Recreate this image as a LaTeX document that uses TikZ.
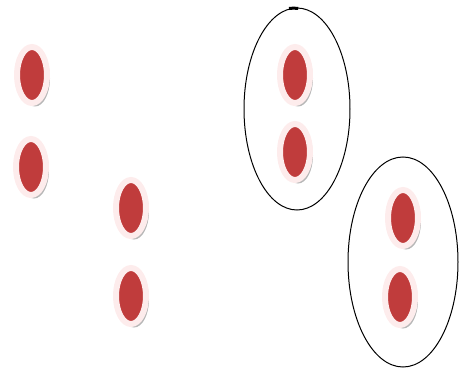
\documentclass[tikz,border=0pt]{standalone}
\usepackage{xcolor}
\usepackage{tikz}
\usetikzlibrary{shapes.geometric,shadows}
\definecolor{cellred}{RGB}{192,60,60}
\definecolor{ringpink}{RGB}{253,236,236}
\tikzset{
  cell/.style={ellipse,fill=cellred,draw=ringpink,line width=6pt,minimum width=30pt,minimum height=56pt,inner sep=0pt,
    drop shadow={shadow xshift=3pt,shadow yshift=-3.5pt,fill=black!40,opacity=0.7}},
  group/.style={ellipse,draw=black,line width=1pt,inner sep=0pt},
}
\begin{document}
\begin{tikzpicture}[x=1pt,y=-1pt]
\useasboundingbox (0,0) rectangle (461,369);
% loose cells
\foreach \n/\x/\y in {a/32/75,b/31/167,c/131/208,d/131/296} \node[cell] (\n) at (\x,\y) {};
% grouped cells
\node[group,minimum width=106pt,minimum height=202pt] (grpA) at (297,109) {};
\node[group,minimum width=110pt,minimum height=210pt] (grpB) at (403,262) {};
\draw[line width=3pt] (grpA.north) ++(-8,1) arc[start angle=95,end angle=85,x radius=53,y radius=-101];
\foreach \n/\x/\y in {e/295/75,f/295/152,g/403/218,h/400/297} \node[cell] (\n) at (\x,\y) {};
\end{tikzpicture}
\end{document}
